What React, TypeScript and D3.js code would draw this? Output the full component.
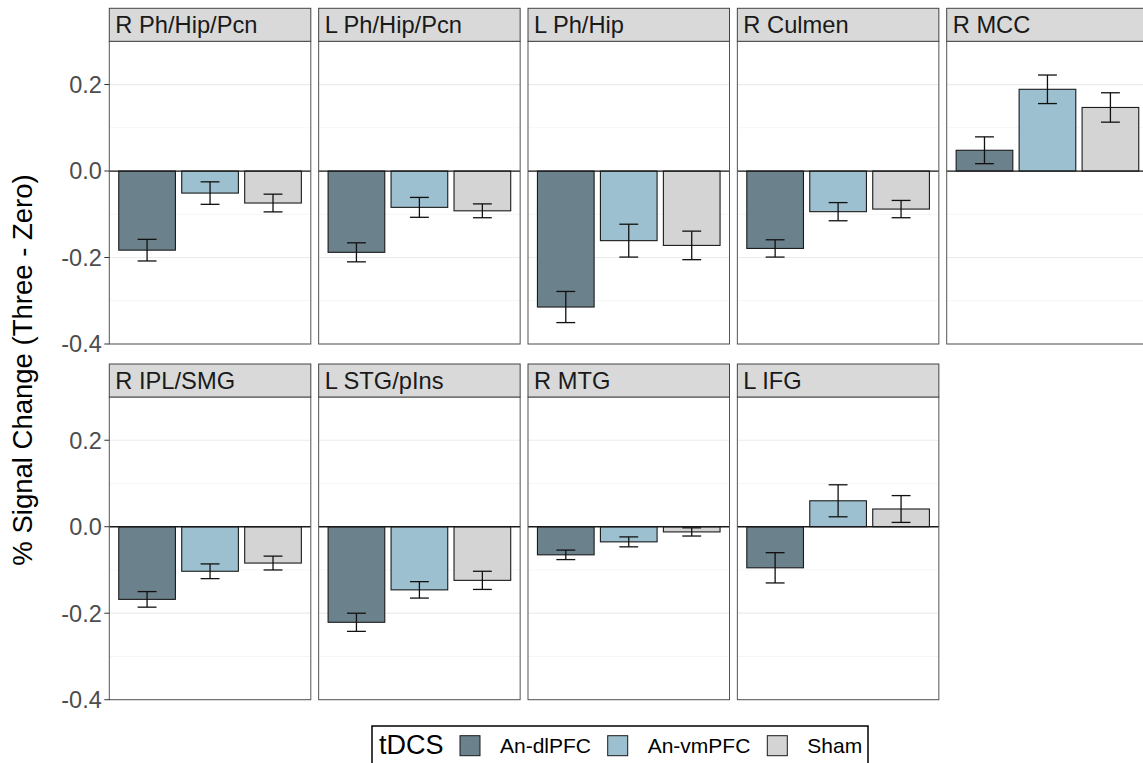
import React from "react";
import * as d3 from "d3";

const regions = [
  "R Ph/Hip/Pcn",
  "L Ph/Hip/Pcn",
  "L Ph/Hip",
  "R Culmen",
  "R MCC",
  "R IPL/SMG",
  "L STG/pIns",
  "R MTG",
  "L IFG",
];
const conditions = ["An-dlPFC", "An-vmPFC", "Sham"];
const conditionColors = ["#6B818B", "#9CC0CF", "#D4D4D4"];

const dlpfcMean = [-0.183, -0.188, -0.3145, -0.179, 0.048, -0.168, -0.221, -0.065, -0.095];
const vmpfcMean = [-0.051, -0.084, -0.161, -0.094, 0.189, -0.103, -0.146, -0.035, 0.06];
const shamMean = [-0.074, -0.092, -0.172, -0.088, 0.147, -0.084, -0.124, -0.012, 0.041];
const dlpfcSE = [0.025, 0.022, 0.036, 0.02, 0.031, 0.018, 0.021, 0.011, 0.035];
const vmpfcSE = [0.026, 0.023, 0.038, 0.021, 0.033, 0.017, 0.019, 0.0115, 0.037];
const shamSE = [0.0205, 0.016, 0.033, 0.02, 0.034, 0.016, 0.021, 0.0095, 0.031];

const majorTicks = [-0.4, -0.2, 0, 0.2];
const majorTickLabels = ["-0.4", "-0.2", "0.0", "0.2"];
const minorTicks = [-0.3, -0.1, 0.1];
const yDomain = [-0.4, 0.3];

const yTitle = "% Signal Change (Three - Zero)";
const legendTitle = "tDCS";

const means = [dlpfcMean, vmpfcMean, shamMean];
const ses = [dlpfcSE, vmpfcSE, shamSE];

const W = 1143;
const H = 763;
const FONT = "'Liberation Sans', Arial, Helvetica, sans-serif";
const nCols = 5;
const panelLeft0 = 109.3;
const colStep = 209.35;
const panelW = 201.5;
const stripTops = [8.3, 364];
const stripH = 33;
const panelH = 302.7;

export default function App() {
  return (
    <svg
      width={W}
      height={H}
      style={{ position: "absolute", left: 0, top: 0, background: "#fff" }}
      fontFamily={FONT}
    >
      <rect x={0} y={0} width={W} height={H} fill="#fff" />
      {regions.map((reg, i) => {
        const col = i % nCols;
        const row = Math.floor(i / nCols);
        const left = panelLeft0 + col * colStep;
        const sTop = stripTops[row];
        const pTop = sTop + stripH;
        const pBot = pTop + panelH;
        const y = d3.scaleLinear().domain(yDomain).range([pBot, pTop]);
        const x = d3
          .scaleBand()
          .domain(conditions)
          .range([left, left + panelW])
          .paddingInner(0.1)
          .paddingOuter(0.15);
        const step = x.step();
        return (
          <g key={reg}>
            <rect x={left} y={pTop} width={panelW} height={panelH} fill="#fff" />
            {minorTicks.map((t) => (
              <line key={"mi" + t} x1={left} x2={left + panelW} y1={y(t)} y2={y(t)} stroke="#f2f2f2" strokeWidth={0.8} />
            ))}
            {majorTicks.map((t) => (
              <line key={"ma" + t} x1={left} x2={left + panelW} y1={y(t)} y2={y(t)} stroke="#ebebeb" strokeWidth={1.2} />
            ))}
            {conditions.map((c, k) => {
              const m = means[k][i];
              const se = ses[k][i];
              const bx = x(c) as number;
              const bw = x.bandwidth();
              const cx = bx + bw / 2;
              const y0 = y(0);
              const ym = y(m);
              return (
                <g key={c}>
                  <rect
                    x={bx}
                    y={Math.min(y0, ym)}
                    width={bw}
                    height={Math.abs(ym - y0)}
                    fill={conditionColors[k]}
                    stroke="#1a1a1a"
                    strokeWidth={1.1}
                  />
                  <line x1={cx} x2={cx} y1={y(m - se)} y2={y(m + se)} stroke="#111" strokeWidth={1.3} />
                  <line x1={cx - 0.15 * step} x2={cx + 0.15 * step} y1={y(m - se)} y2={y(m - se)} stroke="#111" strokeWidth={1.3} />
                  <line x1={cx - 0.15 * step} x2={cx + 0.15 * step} y1={y(m + se)} y2={y(m + se)} stroke="#111" strokeWidth={1.3} />
                </g>
              );
            })}
            <line x1={left} x2={left + panelW} y1={y(0)} y2={y(0)} stroke="#1a1a1a" strokeWidth={1.3} />
            <rect x={left} y={pTop} width={panelW} height={panelH} fill="none" stroke="#555" strokeWidth={1} />
            <rect x={left} y={sTop} width={panelW} height={stripH} fill="#d9d9d9" stroke="#444" strokeWidth={1} />
            <text x={left + 6} y={sTop + 25} fontSize={23.7} fill="#1a1a1a">
              {reg}
            </text>
            {col === 0 &&
              majorTicks.map((t, j) => (
                <g key={"tk" + t}>
                  <line x1={left - 5} x2={left} y1={y(t)} y2={y(t)} stroke="#333" strokeWidth={1} />
                  <text x={left - 7.5} y={y(t)} dy="0.36em" textAnchor="end" fontSize={23.5} fill="#4d4d4d">
                    {majorTickLabels[j]}
                  </text>
                </g>
              ))}
          </g>
        );
      })}
      <text
        transform={`translate(32,370) rotate(-90)`}
        textAnchor="middle"
        fontSize={27.5}
        fill="#000"
      >
        {yTitle}
      </text>
      <g>
        <rect x={372} y={726} width={496} height={46} fill="#fff" stroke="#000" strokeWidth={1.5} />
        <text x={379} y={754} fontSize={27} fill="#000">
          {legendTitle}
        </text>
        {conditions.map((c, k) => {
          const kx = [460, 607.7, 767.3][k];
          return (
            <g key={"lg" + c}>
              <rect x={kx} y={735.7} width={20} height={20} fill={conditionColors[k]} stroke="#1a1a1a" strokeWidth={1} />
              <text x={kx + 40} y={753.3} fontSize={21} fill="#000">
                {c}
              </text>
            </g>
          );
        })}
      </g>
    </svg>
  );
}
